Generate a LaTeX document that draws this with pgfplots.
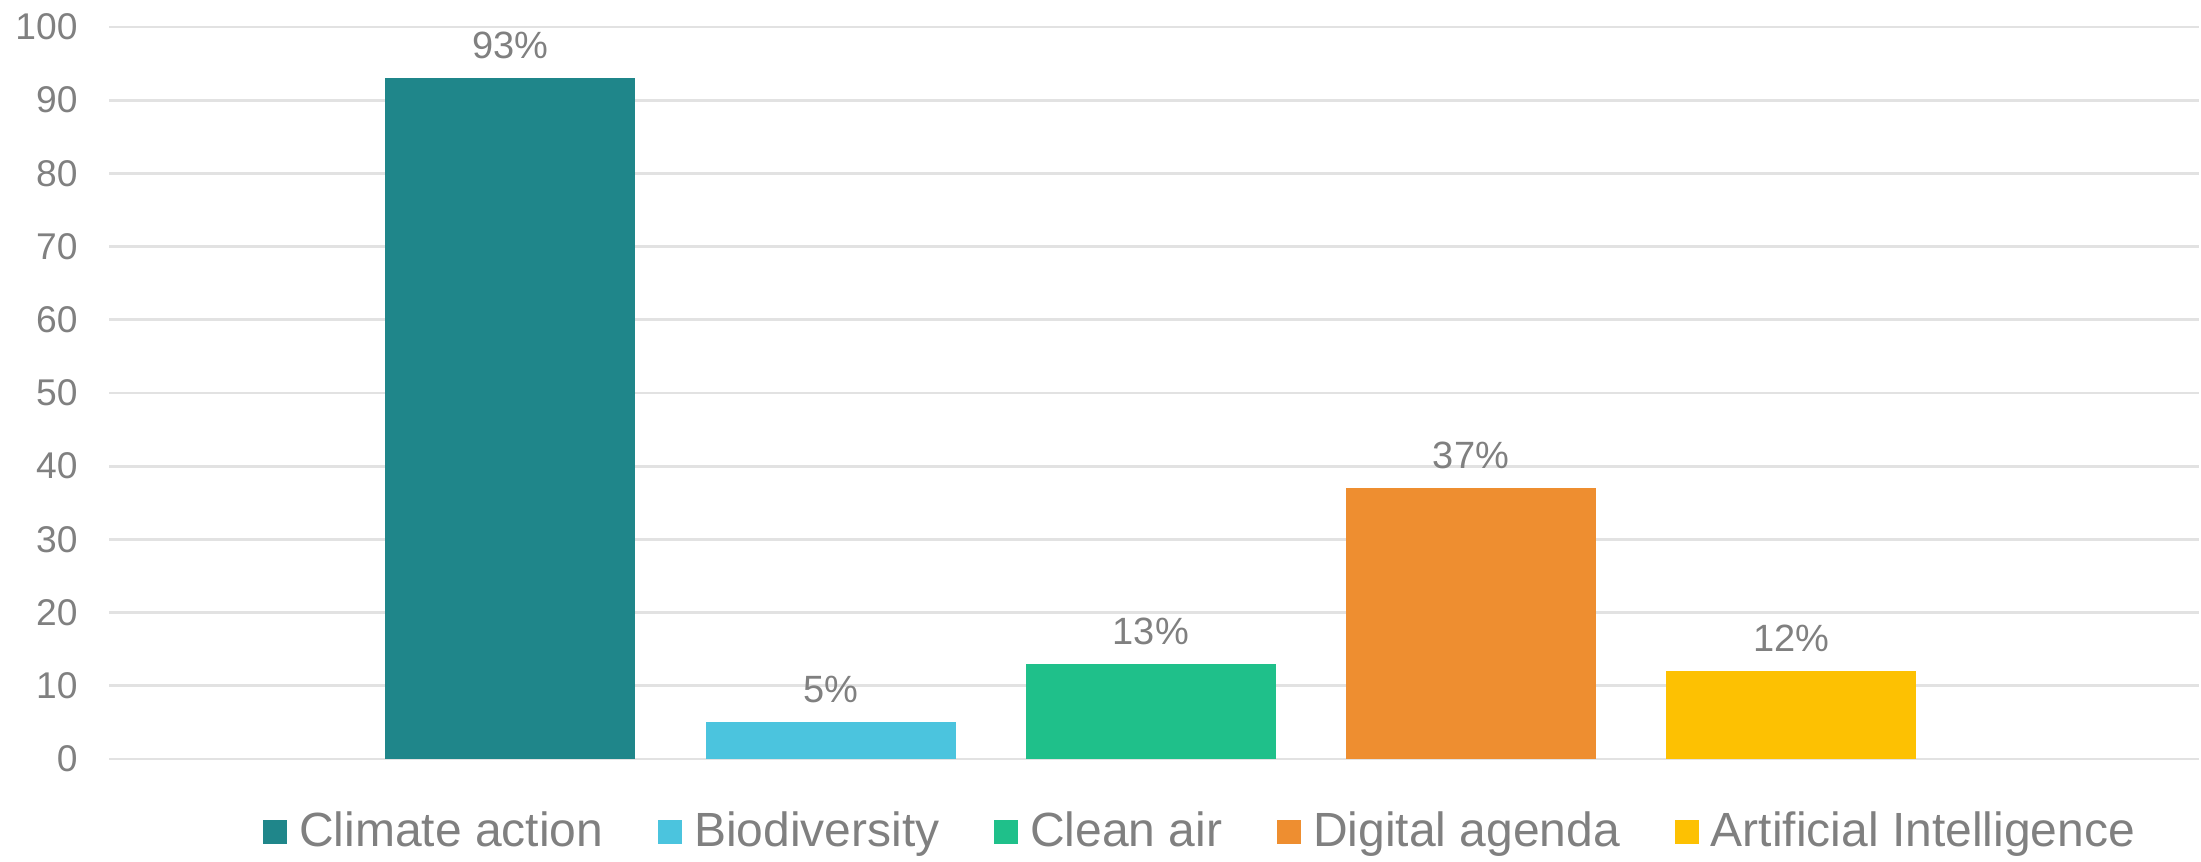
\documentclass[border=0pt]{standalone}
\usepackage{fontspec}
\setmainfont{Liberation Sans}
\usepackage{pgfplots}
\pgfplotsset{compat=1.18}
\definecolor{cClimate}{HTML}{1F868A}
\definecolor{cBio}{HTML}{4BC4DE}
\definecolor{cAir}{HTML}{1FC08A}
\definecolor{cDigital}{HTML}{EE8E30}
\definecolor{cAI}{HTML}{FDC102}
\definecolor{txt}{HTML}{808080}
\definecolor{gridc}{HTML}{E2E2E2}
\begin{document}
\begin{tikzpicture}
\begin{axis}[
    name=ax, at={(0,0)}, anchor=south west,
    width=522.5pt, height=183pt, scale only axis,
    ymin=0, ymax=100, xmin=-1.254, xmax=5.274,
    ytick={0,10,...,100}, xtick=\empty,
    ymajorgrids, grid style={draw=gridc, line width=0.7pt},
    axis line style={draw=none}, major tick length=0pt,
    ybar, bar width=62.5pt,
    every axis plot/.append style={bar shift=0pt,
        legend image code/.code={\fill[##1] (0pt,-3pt) rectangle (6pt,3pt);}},
    tick label style={font=\fontsize{9.3}{10}\selectfont, text=txt},
    yticklabel style={xshift=-4.35pt},
    /pgf/number format/assume math mode=true,
    nodes near coords={\pgfmathprintnumber{\pgfplotspointmeta}\%},
    nodes near coords style={font=\fontsize{9.5}{11}\selectfont, text=txt, anchor=south, yshift=1.3pt},
    legend columns=5,
    legend style={draw=none, fill=none, at={(0.5235,-0.0997)}, anchor=center,
        font=\fontsize{12}{14}\selectfont, text=txt,
        /tikz/every odd column/.append style={column sep=1pt},
        /tikz/every even column/.append style={column sep=11.7pt}},
]
\addplot[fill=cClimate, draw=none] coordinates {(0,93)};
\addplot[fill=cBio, draw=none] coordinates {(1,5)};
\addplot[fill=cAir, draw=none] coordinates {(2,13)};
\addplot[fill=cDigital, draw=none] coordinates {(3,37)};
\addplot[fill=cAI, draw=none] coordinates {(4,12)};
\legend{Climate action, Biodiversity, Clean air, Digital agenda, Artificial Intelligence}
\end{axis}
\pgfresetboundingbox
\path[use as bounding box] ([xshift=-27.25pt,yshift=-25.75pt]ax.south west) rectangle ([xshift=0.5pt,yshift=6.75pt]ax.north east);
\end{tikzpicture}
\end{document}
